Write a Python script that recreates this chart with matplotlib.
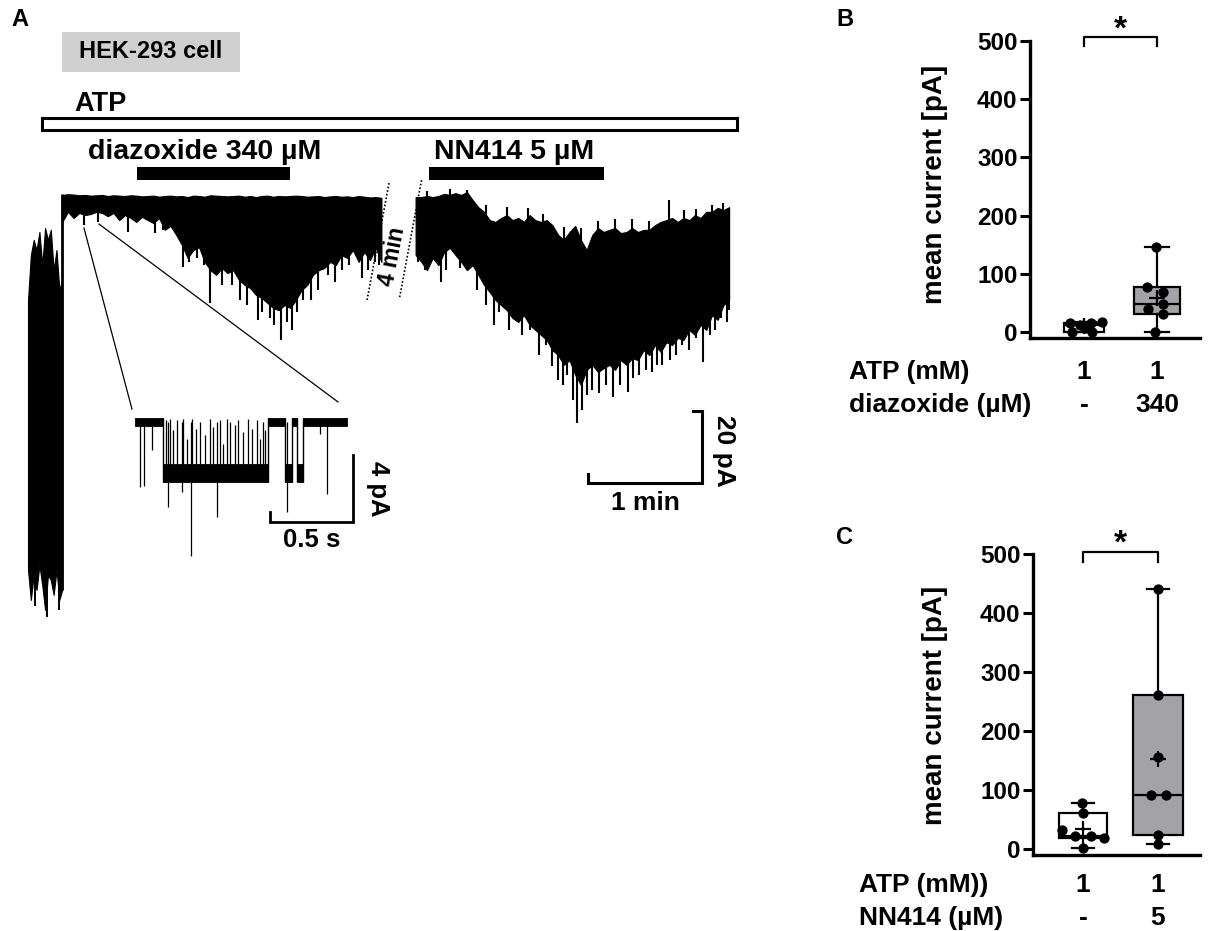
import numpy as np
import matplotlib
matplotlib.use("Agg")
import matplotlib.pyplot as plt
import matplotlib.transforms as mtransforms
from matplotlib.patches import Rectangle

plt.rcParams['font.family'] = ['Liberation Sans', 'DejaVu Sans']
plt.rcParams['font.weight'] = 'bold'

# ======================= DATA =======================
# ---- Panel A: whole-cell current trace (min/max envelope per bin, pA)
bin_min = 0.05
osc_t = [0.000, 0.025, 0.050, 0.075, 0.100, 0.125, 0.150, 0.175, 0.200, 0.225,
         0.250, 0.275, 0.300]
osc_hi = [-28.9, -16.4, -12.2, -15.0, -10.0, -19.2, -8.9, -12.2, -9.4, -20.6,
          -15.0, -26.1, -23.3]
osc_lo = [-103.9, -112.2, -105.3, -109.4, -102.5, -108.1, -115.0, -105.3, -106.7,
          -110.8, -103.9, -112.2, -109.4]
osc_spike_t = [0.03, 0.06, 0.17, 0.27]
osc_spike_pA = [-107, -114, -117, -115]

seg1_t0 = 0.30
seg1_hi = [0.3, 0.5, 0.4, 0.2, 0.3, 0.1, 0.2, 0.3, 0.0, 0.2, 0.1, 0.0, 0.2, 0.1, -0.1,
           0.0, 0.1, -0.2, 0.0, 0.1, -0.1, 0.0, -0.3, 0.1, 0.0, -0.2, 0.2, 0.1, 0.0, -0.1,
           0.0, 0.1, -0.2, 0.0, -0.3, 0.0, 0.1, -0.2, 0.0, -0.1, 0.0, 0.1, 0.0, -0.2, -0.1,
           0.0, -0.3, -0.1, 0.0, -0.2, -0.1, -0.3, 0.0, -0.2, -0.4, -0.3, -0.5]
seg1_lo = [-7.2, -4.4, -6.1, -4.7, -5.3, -5.0, -4.4, -4.7, -5.6, -4.7,
           -6.7, -5.3, -6.1, -7.2, -5.8, -6.7, -7.5, -6.1, -9.4, -8.3,
           -10.8, -13.6, -17.2, -15.0, -14.2, -18.3, -20.6, -21.9, -20.0, -21.4,
           -20.6, -23.3, -24.7, -25.6, -27.5, -28.3, -29.7, -31.1, -31.7, -30.3,
           -31.1, -28.9, -26.1, -24.7, -21.9, -20.6, -20.0, -18.3, -19.2, -16.4,
           -17.2, -15.0, -18.3, -15.6, -17.8, -14.4, -18.3]
seg1_spike_t = [0.49, 0.61, 0.88, 1.11, 1.18, 1.36, 1.41, 1.48, 1.54, 1.60,
                1.70, 1.79, 1.86, 1.92, 2.02, 2.05, 2.12, 2.16, 2.22, 2.27,
                2.32, 2.36, 2.41, 2.48, 2.54, 2.63, 2.69, 2.75, 2.82, 2.93,
                2.98, 3.04, 3.08]
seg1_spike_pA = [-8.1, -7.2, -10.0, -10.3, -9.4, -19.7, -18.3, -17.2, -19.2, -29.7,
                 -24.7, -24.7, -28.9, -30.3, -34.4, -32.2, -33.9, -35.8, -40.0, -35.0,
                 -37.2, -32.2, -28.9, -28.9, -26.1, -21.9, -23.9, -20.6, -19.2, -22.8,
                 -20.6, -18.3, -19.2]

seg2_hi = [-0.3, -0.3, 0.0, -0.3, 0.0, 0.6, 0.3, 0.8, 0.3, 1.1,
           -1.1, -3.1, -4.4, -6.7, -7.2, -6.1, -5.3, -6.7, -6.1, -7.2,
           -5.3, -6.7, -7.2, -6.7, -8.1, -10.8, -12.2, -10.0, -8.3, -12.2,
           -15.0, -10.8, -8.9, -10.0, -9.4, -8.9, -10.3, -10.0, -8.9, -10.0,
           -9.4, -9.4, -8.1, -7.2, -6.7, -6.1, -7.2, -6.1, -6.7, -5.3,
           -6.1, -4.4, -4.4, -3.3, -3.9, -3.1]
seg2_lo = [-16.4, -18.3, -20.6, -17.2, -19.2, -15.6, -14.4, -16.4, -18.3, -20.6,
           -19.2, -21.9, -24.7, -26.7, -28.9, -30.3, -31.7, -33.9, -35.0, -33.1,
           -35.8, -37.2, -38.6, -40.0, -42.8, -44.2, -46.9, -45.6, -49.7, -52.5,
           -48.3, -46.9, -48.9, -47.8, -46.9, -48.3, -45.6, -46.9, -45.0, -45.6,
           -42.8, -44.2, -41.4, -43.3, -40.6, -41.4, -39.4, -40.0, -37.2, -38.6,
           -35.8, -37.2, -33.1, -34.4, -30.3, -28.9]
seg2_spike_t = [0.02, 0.08, 0.22, 0.27, 0.39, 0.54, 0.62, 0.69, 0.73, 0.82,
                0.88, 0.93, 1.00, 1.08, 1.14, 1.20, 1.25, 1.29, 1.33, 1.38,
                1.42, 1.46, 1.50, 1.55, 1.61, 1.67, 1.73, 1.79, 1.86, 1.91,
                1.96, 2.02, 2.07, 2.12, 2.16, 2.23, 2.28, 2.34, 2.40, 2.46,
                2.52, 2.58, 2.63, 2.68, 2.73, 2.75]
seg2_spike_pA = [-18.3, -20.6, -23.9, -20.6, -20.0, -26.1, -30.3, -35.8, -32.2, -37.2,
                 -33.9, -38.6, -37.2, -44.2, -41.4, -47.2, -51.1, -52.5, -49.7, -56.7,
                 -63.1, -59.4, -55.3, -53.9, -54.7, -52.5, -55.8, -52.5, -54.4, -50.6,
                 -49.7, -48.3, -48.9, -46.9, -46.9, -45.6, -44.2, -41.4, -42.8, -39.4,
                 -46.1, -38.6, -37.2, -33.9, -35.0, -31.7]
seg2_up_t = [0.10, 0.30, 0.45, 0.62, 0.80, 0.99, 1.12, 1.30, 1.45, 1.60,
             1.75, 1.90, 2.05, 2.22, 2.35, 2.46, 2.60, 2.70]
seg2_up_pA = [1.5, 2.0, 1.8, -2.5, -3.0, -3.3, -5.0, -8.5, -9.0, -7.0,
              -6.5, -6.5, -7.0, -1.1, -4.0, -3.5, -2.5, -2.0]

# application periods (min, display time axis)
atp_period = (0.12, 6.22)
diazoxide_period = (0.96, 2.30)
nn414_period_seg2 = (0.12, 1.65)   # relative to start of second segment
break_label = "4 min"
scale_min = 1
scale_pA = 20

# ---- inset: single-channel openings (s, pA)
inset_end = 1.277
inset_open_start = [0.169, 0.904, 0.976]
inset_open_end = [0.801, 0.946, 1.012]
closed_noise = 0.22
open_level_hi = -2.5
open_level_lo = -3.6
inset_flicker_t = [0.187, 0.211, 0.229, 0.253, 0.289, 0.313, 0.343, 0.367, 0.392, 0.422,
                   0.452, 0.470, 0.512, 0.530, 0.554, 0.572, 0.602, 0.620, 0.651, 0.681,
                   0.705, 0.735, 0.753, 0.771, 0.783]
inset_flicker_pA = [0.1, 0.2, -0.5, 0.1, 0.2, -1.0, 0.2, -0.4, 0.0, -0.8,
                    0.2, -0.3, 0.1, -1.3, 0.2, 0.0, -0.2, 0.1, -0.6, 0.2,
                    -0.4, 0.1, -1.0, 0.0, -0.5]
inset_spike_t = [0.030, 0.054, 0.105, 0.199, 0.283, 0.337, 0.494, 0.916, 1.114, 1.157]
inset_spike_pA = [-3.9, -3.8, -1.7, -5.1, -4.2, -8.0, -5.7, -5.4, -0.7, -4.3]
inset_scale_s = 0.5
inset_scale_pA = 4

# ---- Panel B / C: mean current (pA)
b_ctrl = [16, 0, 12, 8, 16, 1, 17]
b_diaz = [146, 78, 69, 40, 48, 31, 0]
c_ctrl = [78, 61, 32, 22, 22, 19, 2]
c_nn414 = [440, 261, 156, 91, 91, 24, 8]
b_rows = [("ATP (mM)", ["1", "1"]), ("diazoxide (µM)", ["-", "340"])]
c_rows = [("ATP (mM))", ["1", "1"]), ("NN414 (µM)", ["-", "5"])]
y_ticks = [0, 100, 200, 300, 400, 500]

# ======================= LAYOUT =======================
W, H = 1210, 931
fig = plt.figure(figsize=(W / 100, H / 100), dpi=100)


def fx(px):
    return px / W


def fy(py):
    return 1 - py / H


# ---------- Panel A main axes (time in min, current in pA)
pxmin, pApx = 114.0, 3.6
axA = fig.add_axes([0, 0, 760 / W, 1])
axA.set_xlim(-28 / pxmin, 732 / pxmin)
axA.set_ylim(-(H - 196) / pApx, 196 / pApx)
axA.axis('off')

# trace: initial oscillating part
axA.fill_between(osc_t, osc_lo, osc_hi, color='k', lw=0.8, edgecolor='k')
axA.vlines(osc_spike_t, osc_spike_pA, -60, color='k', lw=1.4)
axA.vlines([osc_t[-1]], [osc_lo[-1]], [0.5], color='k', lw=2.0)

# segment 1
t1 = seg1_t0 + bin_min * np.arange(len(seg1_lo))
axA.fill_between(t1, seg1_lo, seg1_hi, color='k', lw=0.8, edgecolor='k')
axA.vlines(seg1_spike_t, seg1_spike_pA, np.interp(seg1_spike_t, t1, seg1_hi) - 0.5,
           color='k', lw=1.5)
seg1_end = t1[-1]

# segment 2 (after a 4-min break)
seg2_offset = seg1_end + 0.30
t2 = bin_min * np.arange(len(seg2_lo))
axA.fill_between(seg2_offset + t2, seg2_lo, seg2_hi, color='k', lw=0.8, edgecolor='k')
axA.vlines(seg2_offset + np.array(seg2_spike_t), seg2_spike_pA,
           np.interp(seg2_spike_t, t2, seg2_hi) - 1, color='k', lw=1.5)
axA.vlines(seg2_offset + np.array(seg2_up_t), np.interp(seg2_up_t, t2, seg2_lo) + 2,
           seg2_up_pA, color='k', lw=1.5)

# break marks
axA.plot([seg1_end + 0.067, seg1_end - 0.126], [3.6, -28.9], color='k', lw=1.2,
         ls=(0, (1, 1.2)))
axA.plot([seg2_offset + 0.052, seg2_offset - 0.141], [4.4, -28.3], color='k', lw=1.2,
         ls=(0, (1, 1.2)))
axA.text(seg1_end + 0.10, -16.9, break_label, rotation=79, ha='center', va='center',
         fontsize=16.5, fontweight='bold')

# application bars
axA.add_patch(Rectangle((atp_period[0], 18.3), atp_period[1] - atp_period[0], 3.4,
                        facecolor='white', edgecolor='k', lw=2.2))
axA.text(0.41, 25.6, "ATP", ha='left', va='center', fontsize=19.5, fontweight='bold')
axA.add_patch(Rectangle((diazoxide_period[0], 4.44), diazoxide_period[1] - diazoxide_period[0],
                        3.6, facecolor='k', edgecolor='none'))
axA.text(0.53, 12.3, "diazoxide 340 µM", ha='left', va='center', fontsize=20.5,
         fontweight='bold')
axA.add_patch(Rectangle((seg2_offset + nn414_period_seg2[0], 4.44),
                        nn414_period_seg2[1] - nn414_period_seg2[0], 3.6,
                        facecolor='k', edgecolor='none'))
axA.text(seg2_offset + 0.16, 12.3, "NN414 5 µM", ha='left', va='center', fontsize=20.5,
         fontweight='bold')

# zoom connector lines
axA.plot([0.491, 0.912], [-8.9, -59.2], color='k', lw=0.9)
axA.plot([0.623, 2.719], [-7.8, -57.2], color='k', lw=0.9)

# main scale bar
sx0, sy0 = 4.912, -79.7
axA.plot([sx0, sx0, sx0 + scale_min, sx0 + scale_min, sx0 + scale_min - 0.08],
         [sy0 + 2.5, sy0, sy0, sy0 + scale_pA, sy0 + scale_pA], color='k', lw=2.2,
         solid_joinstyle='miter')
axA.text(sx0 + scale_min / 2, sy0 - 5.6, f"{scale_min} min", ha='center', va='center',
         fontsize=19, fontweight='bold')
axA.text(sx0 + scale_min + 0.19, sy0 + scale_pA / 2 - 1.0, f"{scale_pA} pA", rotation=-90,
         ha='center', va='center', fontsize=19, fontweight='bold')

# HEK box + panel letters
fig.patches.append(Rectangle((fx(62), fy(72)), fx(240) - fx(62), fy(32) - fy(72),
                             transform=fig.transFigure, facecolor='#d0d0d0',
                             edgecolor='none', zorder=0))
fig.text(fx(151), fy(52), "HEK-293 cell", ha='center', va='center', fontsize=17,
         fontweight='bold')
fig.text(fx(11), fy(19), "A", ha='left', va='center', fontsize=17, fontweight='bold')
fig.text(fx(836), fy(19), "B", ha='left', va='center', fontsize=17, fontweight='bold')
fig.text(fx(836), fy(537), "C", ha='left', va='center', fontsize=17, fontweight='bold')

# ---------- inset (s, pA)
spx, ipx = 166.0, 16.75
axI = fig.add_axes([fx(130), fy(565), fx(400) - fx(130), fy(395) - fy(565)])
axI.set_xlim((130 - 135) / spx, (400 - 135) / spx)
axI.set_ylim(-(565 - 422) / ipx, (422 - 395) / ipx)
axI.axis('off')
axI.patch.set_alpha(0)
closed_starts = [0.0] + inset_open_end
closed_ends = inset_open_start + [inset_end]
for a, b in zip(closed_starts, closed_ends):
    axI.fill_between([a, b], -closed_noise, closed_noise, color='k', lw=0.6)
for a, b in zip(inset_open_start, inset_open_end):
    axI.fill_between([a, b], open_level_lo, open_level_hi, color='k', lw=0.6)
axI.vlines(inset_open_start + inset_open_end, open_level_lo, closed_noise, color='k', lw=1.0)
axI.vlines(inset_flicker_t, open_level_hi, inset_flicker_pA, color='k', lw=0.9)
axI.vlines(inset_spike_t, 0, inset_spike_pA, color='k', lw=0.9)
ix0, iy0 = 0.813, -5.97
axI.plot([ix0, ix0, ix0 + inset_scale_s, ix0 + inset_scale_s],
         [iy0 + 0.6, iy0, iy0, iy0 + inset_scale_pA], color='k', lw=2.0,
         solid_joinstyle='miter')
axI.text(ix0 + inset_scale_s / 2, iy0 - 1.07, f"{inset_scale_s} s", ha='center',
         va='center', fontsize=18.5, fontweight='bold')
axI.text(ix0 + inset_scale_s + 0.151, iy0 + inset_scale_pA / 2, f"{inset_scale_pA} pA",
         rotation=-90, ha='center', va='center', fontsize=18.5, fontweight='bold')


# ---------- Panels B & C
def box_panel(rect, groups, offsets, width, capw, rows, row_y, label_x, ylab_px,
              star_y, br_y, xlim):
    ax = fig.add_axes(rect)
    stats = []
    for g in groups:
        q1, med, q3 = np.percentile(g, [25, 50, 75], method='weibull')
        stats.append(dict(med=med, q1=q1, q3=q3, whislo=min(g), whishi=max(g),
                          mean=np.mean(g), fliers=[]))
    lw = 1.6
    bp = ax.bxp(stats, positions=[1, 2], widths=width, showmeans=True, meanline=False,
                patch_artist=True, capwidths=capw, manage_ticks=False,
                boxprops=dict(linewidth=lw, edgecolor='k'),
                medianprops=dict(color='k', linewidth=lw),
                whiskerprops=dict(color='k', linewidth=lw),
                capprops=dict(color='k', linewidth=lw),
                meanprops=dict(marker='+', markeredgecolor='k', markerfacecolor='k',
                               markersize=11, markeredgewidth=1.6))
    bp['boxes'][0].set_facecolor('white')
    bp['boxes'][1].set_facecolor('#a3a3a7')
    for m in bp['means']:
        m.set_zorder(5)
    for i, (g, off) in enumerate(zip(groups, offsets)):
        ax.scatter(np.array(off) + i + 1, g, s=55, color='k', zorder=4, linewidths=0)
    ax.set_xlim(*xlim)
    ax.set_ylim(-10, 500)
    ax.set_yticks(y_ticks)
    for s in ['top', 'right']:
        ax.spines[s].set_visible(False)
    for s in ['left', 'bottom']:
        ax.spines[s].set_linewidth(2.4)
    ax.tick_params(axis='y', length=7, width=2.2, labelsize=17.5, pad=2)
    ax.tick_params(axis='x', length=0, labelbottom=False)
    for lab in ax.get_yticklabels():
        lab.set_fontweight('bold')
    ax.plot([1, 1, 2, 2], [br_y - 16, br_y, br_y, br_y - 16], color='k', lw=1.6,
            clip_on=False)
    ax.text(1.5, star_y, '*', ha='center', va='center', fontsize=24, fontweight='bold')
    trans = mtransforms.blended_transform_factory(ax.transData, fig.transFigure)
    for (name, vals), ypx in zip(rows, row_y):
        fig.text(fx(label_x), fy(ypx), name, ha='left', va='center', fontsize=19,
                 fontweight='bold')
        for j, v in enumerate(vals):
            ax.text(j + 1, fy(ypx), v, transform=trans, ha='center', va='center',
                    fontsize=19, fontweight='bold')
    fig.text(fx(ylab_px[0]), fy(ylab_px[1]), "mean current [pA]", rotation=90,
             ha='center', va='center', fontsize=20, fontweight='bold')
    return ax


b_offsets = [[-0.19, -0.17, -0.05, 0.02, 0.10, 0.11, 0.25],
             [-0.01, -0.14, 0.08, -0.12, 0.08, 0.08, -0.03]]
c_offsets = [[-0.01, 0.0, -0.28, -0.11, 0.11, 0.28, 0.0],
             [0.0, 0.0, 0.0, -0.10, 0.10, 0.0, 0.0]]

box_panel([fx(1030), fy(338), fx(1200) - fx(1030), fy(41) - fy(338)],
          [b_ctrl, b_diaz], b_offsets, [0.54, 0.64], [0.34, 0.34], b_rows, [372, 405],
          849, (935, 184), 519, 507, (1 - 54 / 73, 2 + 43 / 73))
box_panel([fx(1033), fy(855), fx(1200) - fx(1033), fy(554) - fy(855)],
          [c_ctrl, c_nn414], c_offsets, [0.65, 0.67], [0.29, 0.29], c_rows, [885, 918],
          859, (935, 705), 517, 503, (1 - 50 / 75, 2 + 42 / 75))

fig.savefig("out.png", dpi=100)
